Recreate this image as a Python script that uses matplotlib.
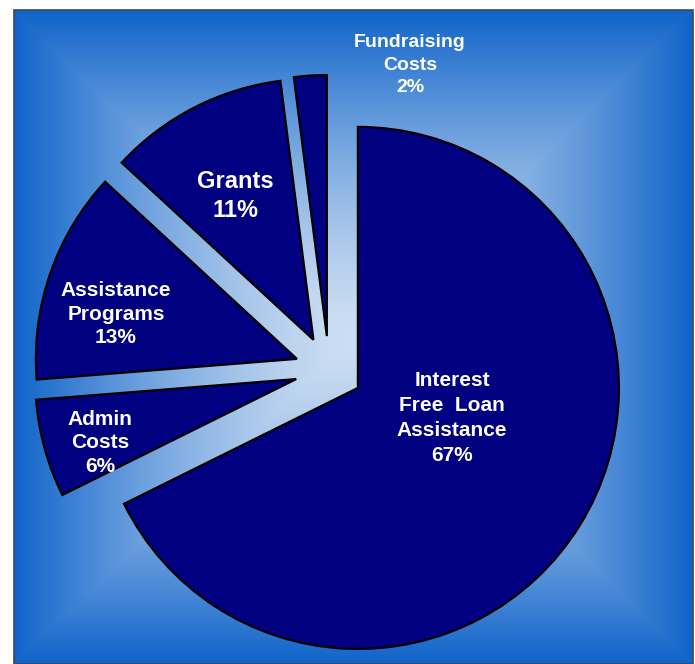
import numpy as np
import matplotlib; matplotlib.use("Agg")
import matplotlib.pyplot as plt
from matplotlib.patches import Rectangle

# data (percent)
categories = ["Interest\nFree  Loan\nAssistance", "Admin\nCosts", "Assistance\nPrograms", "Grants", "Fundraising\nCosts"]
values = [67, 6, 13, 11, 2]

W, H = 695, 664
plt.rcParams["font.family"] = ["Liberation Sans", "DejaVu Sans"]
fig = plt.figure(figsize=(W/100, H/100), dpi=100)
ax = fig.add_axes([0, 0, 1, 1])

# frame with rectangular "from centre" gradient (pixel coords, y up)
fx0, fx1, fy0, fy1 = 14, 693, 0, 654
cx, cy = (fx0+fx1)/2, (fy0+fy1)/2
xs = np.linspace(fx0, fx1, 400); ys = np.linspace(fy0, fy1, 400)
X, Y = np.meshgrid(xs, ys)
t = np.maximum(np.abs(X-cx)/((fx1-fx0)/2), np.abs(Y-cy)/((fy1-fy0)/2))
t = np.clip(t, 0, 1)**1.45
c_mid = np.array([0.80, 0.87, 0.95]); c_edge = np.array([0.06, 0.39, 0.79])
img = c_mid*(1-t[..., None]) + c_edge*t[..., None]
ax.imshow(img, extent=[fx0, fx1, fy0, fy1], origin="lower", interpolation="bilinear", zorder=0)
ax.add_patch(Rectangle((fx0, fy0), fx1-fx0, fy1-fy0, fill=False, ec="#3a4a5a", lw=1.2, zorder=1))

# exploded pie, clockwise from the top (explode is in pixels here)
R = 261
ax.pie(values, radius=R, center=(329, H-370), startangle=90, counterclock=False,
       explode=[34]*len(values), colors=["#000080"]*len(values),
       wedgeprops=dict(edgecolor="black", linewidth=1.6), frame=True)

# label positions (pixel coords of text-block centres), sizes, line spacing
lab_xy = [(452, H-418), (100, H-443), (116, H-314), (235, H-196), (410, H-65)]
lab_fs = [15, 15, 15, 17, 14]
lab_ls = [1.38, 1.33, 1.33, 1.28, 1.45]
for name, v, (x, y), fs, ls in zip(categories, values, lab_xy, lab_fs, lab_ls):
    ax.text(x, y, f"{name}\n{v}%", ha="center", va="center", color="white",
            fontsize=fs, fontweight="bold", linespacing=ls, zorder=5)

ax.set_xlim(0, W); ax.set_ylim(0, H)
ax.set_aspect("auto"); ax.axis("off")
fig.savefig("out.png", dpi=100)
